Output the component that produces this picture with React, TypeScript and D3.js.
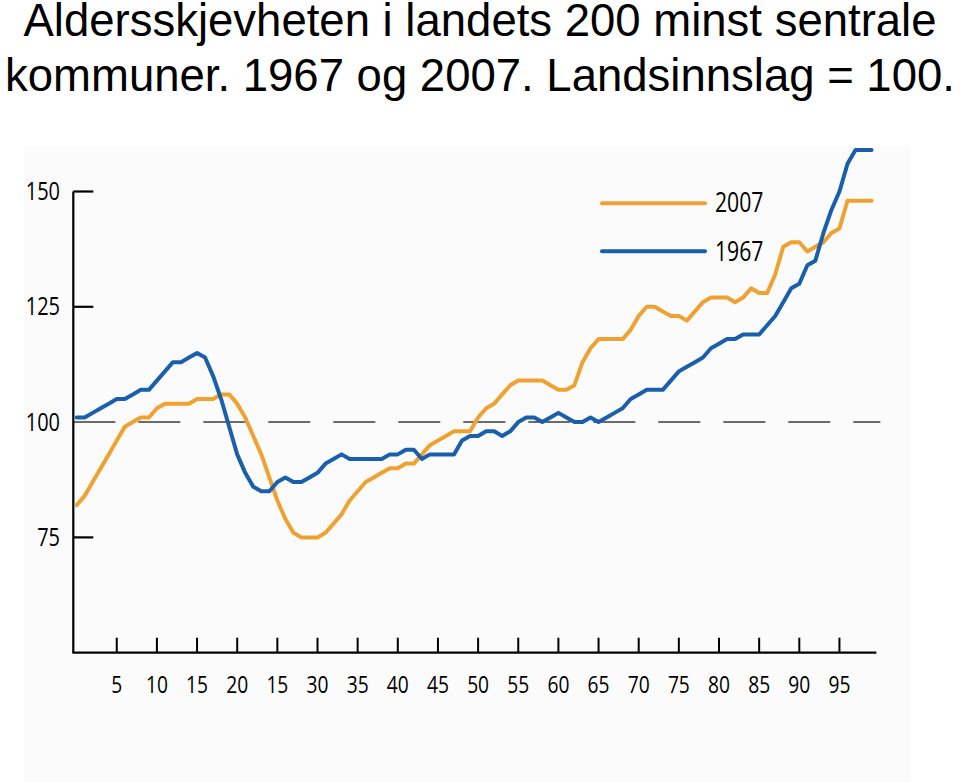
import React from "react";
import * as d3 from "d3";

const titleLines = [
  "Aldersskjevheten i landets 200 minst sentrale",
  "kommuner. 1967 og 2007. Landsinnslag = 100.",
];

const series1967 = [
  101, 101, 102, 103, 104, 105, 105, 106, 107, 107,
  109, 111, 113, 113, 114, 115, 114, 110, 105, 99,
  93, 89, 86, 85, 85, 87, 88, 87, 87, 88,
  89, 91, 92, 93, 92, 92, 92, 92, 92, 93,
  93, 94, 94, 92, 93, 93, 93, 93, 96, 97,
  97, 98, 98, 97, 98, 100, 101, 101, 100, 101,
  102, 101, 100, 100, 101, 100, 101, 102, 103, 105,
  106, 107, 107, 107, 109, 111, 112, 113, 114, 116,
  117, 118, 118, 119, 119, 119, 121, 123, 126, 129,
  130, 134, 135, 141, 146, 150, 156, 159, 159, 159,
];

const series2007 = [
  82, 84, 87, 90, 93, 96, 99, 100, 101, 101,
  103, 104, 104, 104, 104, 105, 105, 105, 106, 106,
  104, 101, 97, 93, 88, 83, 79, 76, 75, 75,
  75, 76, 78, 80, 83, 85, 87, 88, 89, 90,
  90, 91, 91, 93, 95, 96, 97, 98, 98, 98,
  101, 103, 104, 106, 108, 109, 109, 109, 109, 108,
  107, 107, 108, 113, 116, 118, 118, 118, 118, 120,
  123, 125, 125, 124, 123, 123, 122, 124, 126, 127,
  127, 127, 126, 127, 129, 128, 128, 132, 138, 139,
  139, 137, 138, 139, 141, 142, 148, 148, 148, 148,
];

const xTickValues = [5, 10, 15, 20, 25, 30, 35, 40, 45, 50, 55, 60, 65, 70, 75, 80, 85, 90, 95];
const xTickLabels = ["5", "10", "15", "20", "15", "30", "35", "40", "45", "50", "55", "60", "65", "70", "75", "80", "85", "90", "95"];
const yTickValues = [150, 125, 100, 75];
const legendItems = [
  { label: "2007", key: "2007" },
  { label: "1967", key: "1967" },
];

const COLORS: Record<string, string> = { "2007": "#EFA232", "1967": "#1A5FAB" };

export default function App() {
  const W = 960;
  const H = 782;
  const x = d3.scaleLinear().domain([0, 100]).range([76.6, 879.6]);
  const y = d3.scaleLinear().domain([50, 150]).range([652.7, 191.5]);

  const line = d3
    .line<number>()
    .x((_, i) => x(i))
    .y((d) => y(d));

  const axisLeft = 73.3;
  const axisRight = x(99.6);
  const axisBottom = y(50);
  const axisTop = y(150);

  const labelFont = "'Open Sans', 'DejaVu Sans', sans-serif";

  return (
    <svg
      width={W}
      height={H}
      style={{ position: "absolute", left: 0, top: 0, background: "#ffffff" }}
    >
      <rect x={0} y={0} width={W} height={H} fill="#ffffff" />
      <rect x={24} y={146} width={886} height={636} fill="#fbfbfb" />

      {titleLines.map((t, i) => (
        <text
          key={i}
          x={480}
          y={36 + i * 55}
          textAnchor="middle"
          fontFamily="'Liberation Sans', Arial, sans-serif"
          fontSize={45.5}
          fill="#000"
        >
          {t}
        </text>
      ))}

      {/* reference dashed line at 100 */}
      <line
        x1={axisLeft}
        x2={axisRight + 4}
        y1={y(100)}
        y2={y(100)}
        stroke="#6b6b6b"
        strokeWidth={2}
        strokeDasharray="42 23"
      />

      {/* y axis */}
      <line x1={axisLeft} x2={axisLeft} y1={axisTop} y2={axisBottom} stroke="#000" strokeWidth={2.2} />
      {yTickValues.map((v) => (
        <g key={v}>
          {v !== 100 && (
            <line x1={axisLeft} x2={axisLeft + 20} y1={y(v)} y2={y(v)} stroke="#000" strokeWidth={2.2} />
          )}
          <text
            transform={`translate(60, ${y(v) + 8.5}) scale(0.8, 1)`}
            textAnchor="end"
            fontFamily={labelFont}
            fontSize={25}
            fill="#000"
          >
            {v}
          </text>
        </g>
      ))}

      {/* x axis */}
      <line x1={axisLeft - 1} x2={axisRight} y1={axisBottom} y2={axisBottom} stroke="#000" strokeWidth={2.2} />
      {xTickValues.map((v, i) => (
        <g key={v}>
          <line x1={x(v)} x2={x(v)} y1={axisBottom} y2={axisBottom - 15} stroke="#000" strokeWidth={2} />
          <text
            transform={`translate(${x(v)}, 693) scale(0.8, 1)`}
            textAnchor="middle"
            fontFamily={labelFont}
            fontSize={24}
            fill="#000"
          >
            {xTickLabels[i]}
          </text>
        </g>
      ))}

      {/* series */}
      <path
        d={line(series2007) || ""}
        fill="none"
        stroke={COLORS["2007"]}
        strokeWidth={4}
        strokeLinejoin="round"
        strokeLinecap="round"
      />
      <path
        d={line(series1967) || ""}
        fill="none"
        stroke={COLORS["1967"]}
        strokeWidth={4}
        strokeLinejoin="round"
        strokeLinecap="round"
      />

      {/* legend */}
      {legendItems.map((it, i) => (
        <g key={it.key}>
          <line
            x1={602}
            x2={705}
            y1={203.3 + i * 48}
            y2={203.3 + i * 48}
            stroke={COLORS[it.key]}
            strokeWidth={4}
            strokeLinecap="round"
          />
          <text
            transform={`translate(715, ${212 + i * 48.5}) scale(0.8, 1)`}
            fontFamily={labelFont}
            fontSize={26.5}
            fill="#000"
          >
            {it.label}
          </text>
        </g>
      ))}
    </svg>
  );
}
